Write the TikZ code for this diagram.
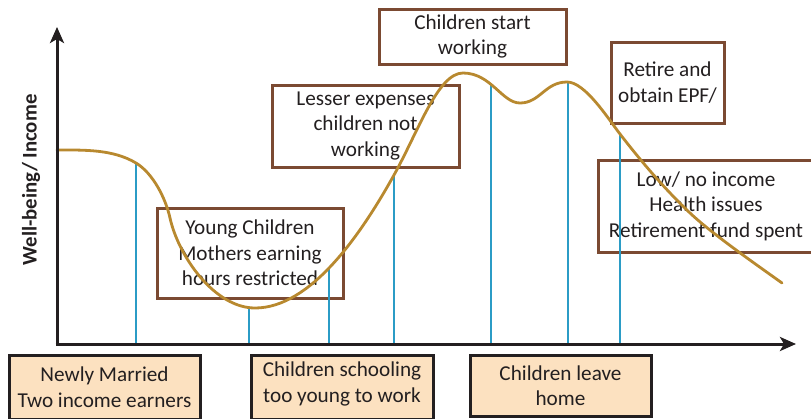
\documentclass[tikz,border=0pt]{standalone}
\usepackage{fontspec}
\setmainfont{Carlito}
\usetikzlibrary{arrows.meta}
\definecolor{ink}{HTML}{231F20}
\definecolor{gold}{HTML}{B8892F}
\definecolor{brownb}{HTML}{7B4A32}
\definecolor{bluel}{HTML}{2B9CC6}
\definecolor{peach}{HTML}{FCE1C0}
\begin{document}
\begin{tikzpicture}[x=1pt,y=-1pt,
  font=\fontsize{21.2}{25.5}\selectfont, text=ink,
  brownbox/.style={draw=brownb, line width=3pt, align=center, inner sep=0pt},
  peachbox/.style={draw=ink, fill=peach, line width=3pt, align=center, inner sep=0pt},
  txt/.style={align=center, inner sep=0pt},
  axis/.style={draw=ink, line width=3pt, -{Stealth[length=16pt,width=14pt,inset=4pt]}},
  marker/.style={draw=bluel, line width=1.8pt},
  lifecurve/.style={draw=gold, line width=2.8pt, line cap=round}]
\useasboundingbox (0,0) rectangle (811,418);
\clip (0,0) rectangle (811,418);

% upper boxes
\node[brownbox, minimum width=187, minimum height=55] (start) at (472.5,36.5) {Children start\\working};
\node[brownbox, minimum width=187, minimum height=82] (lesser) at (365.5,126) {Lesser expenses\\children not\\working};
\node[brownbox, minimum width=113, minimum height=81] (retire) at (667.5,82.5) {Retire and\\obtain EPF/};
\node[brownbox, minimum width=216, minimum height=92] (low) at (706,206) {Low/ no income\\Health issues\\Retirement fund spent};
\node[brownbox, minimum width=186, minimum height=90] (young) at (250,253) {Young Children\\Mothers earning\\hours restricted};

% bottom boxes
\node[peachbox, minimum width=191, minimum height=64] (newly) at (104.5,387) {Newly Married\\Two income earners};
\node[peachbox, minimum width=182, minimum height=64] (school) at (342,387.5) {};
\node[txt] (schoolT) at (342,384) {Children schooling\\too young to work};
\node[peachbox, minimum width=181, minimum height=61] (leave) at (560.5,385.5) {Children leave\\home};

% axes
\coordinate (O) at (57,344);
\coordinate (ytop) at (57,27);
\coordinate (xend) at (796,344);
\node[rotate=90, font=\fontsize{20.8}{24}\selectfont\bfseries] (ylabel) at (31,180) {Well-being/ Income};

% curve key points
\coordinate (K0) at (57,150);
\coordinate (Ka) at (136,163);
\coordinate (Kb) at (170,218);
\coordinate (Kc) at (255,308);
\coordinate (Kd) at (394,175);
\coordinate (Ke) at (463,73);
\coordinate (Kf) at (520,103);
\coordinate (Kg) at (567,82);
\coordinate (Kh) at (620,134);
\coordinate (Kj) at (690,213);
\coordinate (Ki) at (782,283);

% marker tops on the curve
\coordinate (m1) at (136,163);
\coordinate (m2) at (249,307.7);
\coordinate (m3) at (329,269);
\coordinate (m4) at (394,175);
\coordinate (m5) at (491,85);
\coordinate (m6) at (568,82);
\coordinate (m7) at (620,134);

% blue markers
\foreach \c in {m1,m2,m3,m4,m5,m6,m7}
  \draw[marker] (\c) -- (\c |- O);

% curve
\draw[lifecurve] (K0) .. controls (84,150) and (112.9,149.1) .. (Ka)
  .. controls (153.1,173.3) and (165.7,198.5) .. (Kb)
  .. controls (178.7,257) and (215,308) .. (Kc)
  .. controls (310,308) and (360,236.2) .. (Kd)
  .. controls (418.3,131.3) and (438,73) .. (Ke)
  .. controls (491,73) and (502,103) .. (Kf)
  .. controls (540,103) and (545,82) .. (Kg)
  .. controls (585,82) and (607.8,118.2) .. (Kh)
  .. controls (641.4,161.7) and (664.6,188.9) .. (Kj)
  .. controls (711.8,233.7) and (757.6,265.5) .. (Ki);

% axes drawn on top
\draw[axis] (55.5,344) -- (xend);
\draw[axis] (O) -- (ytop);
\end{tikzpicture}
\end{document}
